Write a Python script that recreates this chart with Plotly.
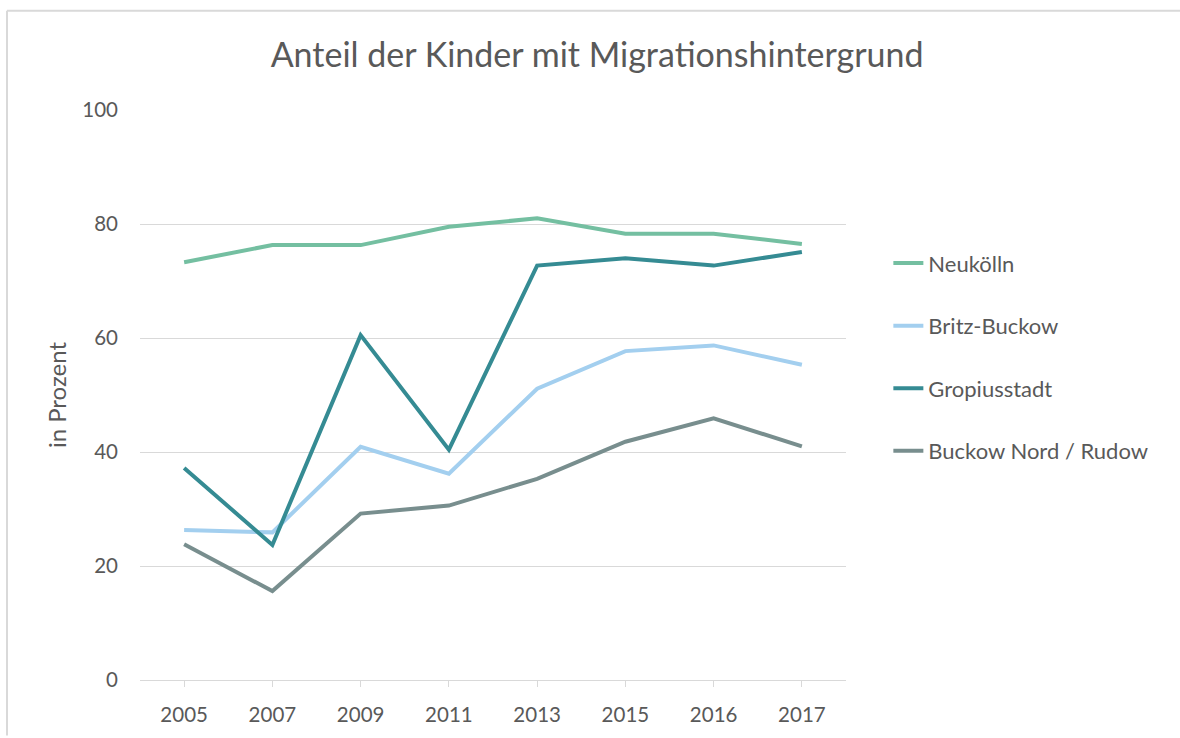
import plotly.graph_objects as go

years = ["2005", "2007", "2009", "2011", "2013", "2015", "2016", "2017"]
neukoelln = [73.3, 76.3, 76.3, 79.5, 81.0, 78.3, 78.3, 76.5]
britz_buckow = [26.3, 25.9, 40.9, 36.2, 51.1, 57.7, 58.7, 55.3]
gropiusstadt = [37.2, 23.7, 60.5, 40.4, 72.7, 74.0, 72.7, 75.1]
buckow_rudow = [23.8, 15.6, 29.2, 30.6, 35.3, 41.8, 45.9, 41.0]

series = [
    ("Neukölln", neukoelln, "#74BFA1"),
    ("Britz-Buckow", britz_buckow, "#A3CFEF"),
    ("Gropiusstadt", gropiusstadt, "#358B93"),
    ("Buckow Nord / Rudow", buckow_rudow, "#788E8E"),
]

FONT = "Lato"
TXT = "#595959"
GRID = "#D9D9D9"

fig = go.Figure()
for name, vals, col in series:
    fig.add_trace(go.Scatter(
        x=years, y=vals, name=name, mode="lines", legendgroup=name,
        line=dict(color=col, width=4),
    ))

fig.update_layout(
    width=1180, height=738,
    paper_bgcolor="white", plot_bgcolor="white",
    margin=dict(l=140, r=334, t=110, b=54),
    font=dict(family=FONT, color=TXT),
    title=dict(text="Anteil der Kinder mit Migrationshintergrund",
               x=0.506, xanchor="center", y=0.925, yanchor="middle",
               font=dict(family=FONT, size=34, color=TXT)),
    showlegend=True,
    legend=dict(x=1.06, xanchor="left", y=0.768, yanchor="top",
                font=dict(family=FONT, size=22, color=TXT),
                tracegroupgap=31, bgcolor="rgba(0,0,0,0)"),
    xaxis=dict(type="category", showgrid=False, showline=True, linecolor=GRID, linewidth=1,
               ticks="outside", ticklen=6, tickcolor=GRID,
               tickfont=dict(family=FONT, size=20.5, color=TXT), ticklabelstandoff=10,
               range=[-0.5, 7.5]),
    yaxis=dict(range=[0, 100], tickvals=[0, 20, 40, 60, 80, 100], showgrid=True, gridcolor=GRID,
               gridwidth=1, zeroline=False, showline=False,
               tickfont=dict(family=FONT, size=20.5, color=TXT), ticklabelstandoff=21,
               title=dict(text="in Prozent", font=dict(family=FONT, size=24, color=TXT), standoff=8)),
    shapes=[
        dict(type="line", xref="paper", yref="paper", x0=(7-140)/706, x1=(1180-140)/706,
             y0=(684-10)/574, y1=(684-10)/574, line=dict(color=GRID, width=2)),
        dict(type="line", xref="paper", yref="paper", x0=(7-140)/706, x1=(7-140)/706,
             y0=(684-10)/574, y1=(684-740)/574, line=dict(color=GRID, width=2)),
    ],
)

fig.write_html("out.html", config={"displayModeBar": False},
               post_script="document.body.style.margin='0';document.body.style.overflow='hidden';"
                           "document.documentElement.style.overflow='hidden';")
